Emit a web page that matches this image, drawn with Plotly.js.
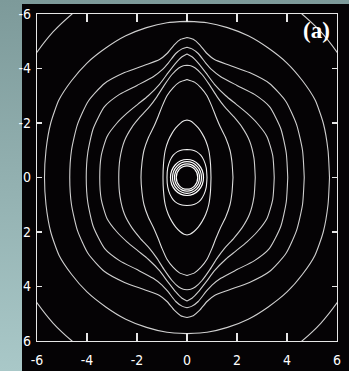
<!DOCTYPE html>
<html>
<head>
<meta charset="utf-8">
<script src="https://cdn.plot.ly/plotly-3.0.1.min.js"></script>
<style>
  html, body { margin: 0; padding: 0; }
  body {
    width: 349px; height: 371px; overflow: hidden; position: relative;
    background: linear-gradient(180deg, #7d9a9a 0%, #93b1b1 50%, #a9c8c8 100%);
  }
  #panel { position: absolute; left: 22px; top: 4px; width: 327px; height: 367px; background: #050305; }
  #chart { position: absolute; left: 0; top: 0; width: 349px; height: 371px; }
</style>
</head>
<body>
<div id="panel"></div>
<div id="chart"></div>
<script>
// Axis ticks
const tickVals = [-6, -4, -2, 0, 2, 4, 6];
const tickText = ['-6', '-4', '-2', '0', '2', '4', '6'];

// Level curves, one quarter each (x <= 0, y <= 0), from the x axis to the y axis.
const outerArcX = [-6.3, -6.0, -5.35, -4.6, -4.18];
const outerArcY = [-4.18, -4.6, -5.35, -6.0, -6.3];

const lvlIx = [-5.70, -5.64, -5.45, -5.12, -4.62, -4.00, -3.25, -2.45, -1.62, -0.80, 0];
const lvlIy = [0, -1.00, -2.00, -2.85, -3.55, -4.20, -4.75, -5.20, -5.50, -5.68, -5.73];

const lvlHx = [-4.69, -4.62, -4.38, -3.95, -3.30, -2.50, -1.70, -1.10, -0.80, -0.50, -0.25, 0];
const lvlHy = [0, -1.00, -1.95, -2.80, -3.45, -3.85, -4.12, -4.33, -4.55, -4.88, -5.07, -5.14];

const lvlGx = [-4.03, -3.97, -3.75, -3.30, -2.70, -2.00, -1.35, -1.00, -0.75, -0.45, -0.20, 0];
const lvlGy = [0, -0.90, -1.80, -2.60, -3.05, -3.38, -3.70, -3.95, -4.20, -4.55, -4.72, -4.78];

const lvlFx = [-3.49, -3.43, -3.20, -2.80, -2.40, -1.95, -1.55, -1.10, -0.75, -0.45, -0.20, 0];
const lvlFy = [0, -0.80, -1.50, -2.00, -2.36, -2.70, -3.00, -3.42, -3.85, -4.20, -4.43, -4.53];

const lvlDx = [-2.73, -2.68, -2.50, -2.20, -1.87, -1.50, -1.20, -0.90, -0.60, -0.33, -0.15, 0];
const lvlDy = [0, -0.70, -1.35, -1.85, -2.23, -2.60, -2.97, -3.40, -3.78, -4.02, -4.10, -4.12];

const lvlCx = [-1.84, -1.80, -1.72, -1.55, -1.33, -1.15, -1.00, -0.80, -0.55, -0.30, 0];
const lvlCy = [0, -0.55, -1.00, -1.45, -1.86, -2.25, -2.60, -3.00, -3.30, -3.50, -3.60];

const lvlBx = [-0.96, -0.94, -0.87, -0.75, -0.60, -0.45, -0.28, -0.12, 0];
const lvlBy = [0, -0.50, -1.00, -1.35, -1.62, -1.82, -1.98, -2.08, -2.11];

const lvlAx = [-0.80, -0.77, -0.68, -0.55, -0.38, -0.20, 0];
const lvlAy = [0, -0.35, -0.62, -0.82, -0.95, -1.01, -1.03];

// Small rings around the centre
const ringRadii = [0.66, 0.58, 0.50, 0.43];

// Build a closed curve from a quarter by reflecting it about both axes
function closeCurve(qx, qy) {
  const n = qx.length, x = [], y = [];
  for (let i = 0; i < n; i++) { x.push(qx[i]); y.push(qy[i]); }
  for (let i = n - 1; i >= 0; i--) { x.push(-qx[i]); y.push(qy[i]); }
  for (let i = 0; i < n; i++) { x.push(-qx[i]); y.push(-qy[i]); }
  for (let i = n - 1; i >= 0; i--) { x.push(qx[i]); y.push(-qy[i]); }
  return { x, y };
}

// Four separate corner arcs
function cornerArcs(qx, qy) {
  const x = [], y = [];
  [[1, 1], [-1, 1], [-1, -1], [1, -1]].forEach(([sx, sy]) => {
    for (let i = 0; i < qx.length; i++) { x.push(sx * qx[i]); y.push(sy * qy[i]); }
    x.push(null); y.push(null);
  });
  return { x, y };
}

const traces = [];
function addLine(c, color, width) {
  traces.push({ type: 'scatter', mode: 'lines', x: c.x, y: c.y,
    line: { color, width, shape: 'spline', smoothing: 0.6 }, hoverinfo: 'skip' });
}
const grey = '#cfcfcf';
addLine(cornerArcs(outerArcX, outerArcY), grey, 1.1);
addLine(closeCurve(lvlIx, lvlIy), grey, 1.1);
addLine(closeCurve(lvlHx, lvlHy), grey, 1.1);
addLine(closeCurve(lvlGx, lvlGy), grey, 1.1);
addLine(closeCurve(lvlFx, lvlFy), grey, 1.1);
addLine(closeCurve(lvlDx, lvlDy), grey, 1.1);
addLine(closeCurve(lvlCx, lvlCy), '#dcdcdc', 1.1);
addLine(closeCurve(lvlBx, lvlBy), '#e8e8e8', 1.1);
addLine(closeCurve(lvlAx, lvlAy), '#f0f0f0', 1.1);

const shapes = ringRadii.map(r => ({
  type: 'circle', xref: 'x', yref: 'y', x0: -r, x1: r, y0: -r, y1: r,
  line: { color: '#ffffff', width: 1.2 }
}));

const tickFont = { family: 'Liberation Sans Narrow, DejaVu Sans Condensed, sans-serif', size: 14, color: '#ffffff' };
const axisCommon = {
  tickmode: 'array', tickvals: tickVals, ticktext: tickText,
  showgrid: false, zeroline: false,
  showline: true, linecolor: '#e6e6e6', linewidth: 1.2, mirror: 'ticks',
  ticks: 'inside', tickcolor: '#e6e6e6', tickwidth: 1.2,
  tickfont: tickFont
};

const layout = {
  width: 349, height: 371,
  margin: { l: 37, r: 12, t: 14, b: 30, pad: 0 },
  paper_bgcolor: 'rgba(0,0,0,0)',
  plot_bgcolor: '#050305',
  showlegend: false,
  xaxis: Object.assign({}, axisCommon, { range: [-6, 6], ticklen: 8, ticklabelstandoff: 6 }),
  yaxis: Object.assign({}, axisCommon, { range: [6, -6], ticklen: 5, ticklabelstandoff: 2 }),
  shapes,
  annotations: [{
    xref: 'paper', yref: 'paper', x: 0.93, y: 0.95, xanchor: 'center', yanchor: 'middle',
    text: '<b>(a)</b>', showarrow: false,
    font: { family: 'Liberation Serif, DejaVu Serif, serif', size: 23, color: '#ffffff' }
  }]
};

Plotly.newPlot('chart', traces, layout, { displayModeBar: false, staticPlot: true });
</script>
</body>
</html>
